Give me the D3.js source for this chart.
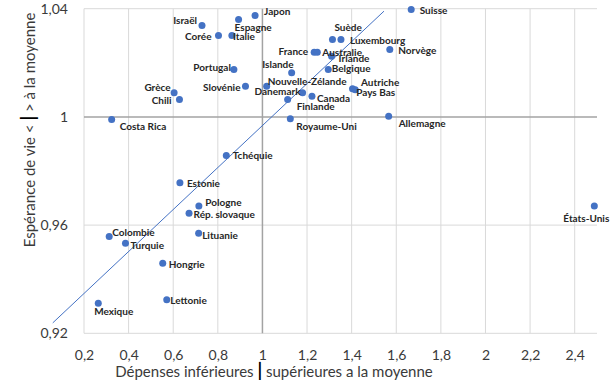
<!DOCTYPE html>
<html lang="fr">
  <head>
    <meta charset="utf-8">
    <title>Dépenses / espérance de vie</title>
    <script src="https://cdn.jsdelivr.net/npm/d3@7"></script>
    <style type="text/css">
      body { margin: 0; background: #fff; }
      .grid { stroke: #d9d9d9; stroke-width: 1; }
      .axisLine { stroke: #a3a3a3; stroke-width: 1.5; }
      .dot { fill: #4472c4; }
      .trend { fill: none; stroke: #4472c4; stroke-width: 1; }
      .tick text { font-family: Lato, "DejaVu Sans", sans-serif; font-size: 14px; fill: #3a3a3a; }
      .label { font-family: Lato, sans-serif; font-size: 10px; font-weight: bold; fill: #262626; }
      .title { font-family: Lato, sans-serif; font-size: 15px; fill: #3a3a3a; }
    </style>
  </head>
  <body>
    <svg id="chart" width="615" height="387"></svg>
    <script type="text/javascript">
      // pays, ratio des dépenses à la moyenne, ratio de l'espérance de vie
      var countries = ["Japon", "Espagne", "Israël", "Corée", "Italie", "Portugal", "Slovénie",
        "Islande", "Nouvelle-Zélande", "Danemark", "Finlande", "Canada", "Suède", "Luxembourg",
        "France", "Australie", "Irlande", "Belgique", "Norvège", "Autriche", "Pays Bas",
        "Royaume-Uni", "Allemagne", "Suisse", "États-Unis", "Grèce", "Chili", "Costa Rica",
        "Tchéquie", "Estonie", "Pologne", "Rép. slovaque", "Lituanie", "Colombie", "Turquie",
        "Hongrie", "Lettonie", "Mexique"];
      var depenses = [0.967, 0.893, 0.729, 0.803, 0.863, 0.872, 0.924,
        1.131, 1.019, 1.180, 1.113, 1.222, 1.314, 1.352,
        1.232, 1.246, 1.310, 1.295, 1.571, 1.404, 1.416,
        1.125, 1.566, 1.667, 2.488, 0.604, 0.628, 0.324,
        0.838, 0.630, 0.715, 0.671, 0.714, 0.313, 0.386,
        0.553, 0.571, 0.264];
      var esperance = [1.0375, 1.0360, 1.0338, 1.0301, 1.0301, 1.0175, 1.0113,
        1.0163, 1.0113, 1.0089, 1.0064, 1.0076, 1.0286, 1.0286,
        1.0239, 1.0239, 1.0224, 1.0175, 1.0249, 1.0104, 1.0100,
        0.9993, 1.0002, 1.0397, 0.9671, 1.0089, 1.0064, 0.9990,
        0.9857, 0.9757, 0.9671, 0.9644, 0.9570, 0.9558, 0.9533,
        0.9459, 0.9324, 0.9311];

      var xTicks = [0.2, 0.4, 0.6, 0.8, 1, 1.2, 1.4, 1.6, 1.8, 2, 2.2, 2.4];
      var yTicks = [0.92, 0.96, 1, 1.04];

      // droite de tendance linéaire
      var trendSlope = 0.0776, trendIntercept = 0.9192;
      var trendRange = [0.06, 1.545];

      // placement des étiquettes : ancre, décalage x, décalage y (px)
      var labelPos = {
        "Japon": ["start", 9, -4], "Espagne": ["start", -4, 8], "Israël": ["end", -5, -5],
        "Corée": ["end", -7, 1], "Italie": ["start", 1, 1], "Portugal": ["end", -3, -2],
        "Slovénie": ["end", -5, 1], "Islande": ["end", 2, -8], "Nouvelle-Zélande": ["start", 1, -5],
        "Danemark": ["end", -2, -1], "Finlande": ["start", 9, 7], "Canada": ["start", 5, 2],
        "Suède": ["start", 2, -12], "Luxembourg": ["start", 9, 1], "France": ["end", -6, -1],
        "Australie": ["start", 5, 0], "Irlande": ["start", 7, 2], "Belgique": ["start", 3.5, -1],
        "Norvège": ["start", 8.5, 0.5], "Autriche": ["start", 8.5, -6], "Pays Bas": ["start", 1, 3],
        "Royaume-Uni": ["start", 6, 8], "Allemagne": ["start", 10, 7], "Suisse": ["start", 8.5, 0.5],
        "États-Unis": ["end", 15, 13], "Grèce": ["end", -3.5, -5], "Chili": ["end", -8, 0.5],
        "Costa Rica": ["start", 8, 6.5], "Tchéquie": ["start", 6.5, 0], "Estonie": ["start", 7, 1.3],
        "Pologne": ["start", 6.5, -3.3], "Rép. slovaque": ["start", 4.5, 1.7], "Lituanie": ["start", 3.5, 2.4],
        "Colombie": ["start", 3, -4], "Turquie": ["start", 5, 2.4], "Hongrie": ["start", 6, 1.4],
        "Lettonie": ["start", 3.5, 0.3], "Mexique": ["start", -4, 8.4]
      };

      var points = countries.map(function(c, i) {
        return {name: c, x: depenses[i], y: esperance[i]};
      });

      var svg = d3.select("#chart");
      var x = d3.scaleLinear().domain([0.2, 2.5]).range([84, 597]);
      var y = d3.scaleLinear().domain([0.92, 1.04]).range([333.3, 8.7]);

      var fr = d3.formatLocale({decimal: ",", thousands: " ", grouping: [3], currency: ["", " €"]});
      var fmt = fr.format("~r");

      // grille
      svg.append("g").selectAll("line")
        .data(xTicks.filter(function(d) { return d !== 1; }))
        .enter().append("line")
          .attr("class", "grid")
          .attr("x1", function(d) { return x(d); }).attr("x2", function(d) { return x(d); })
          .attr("y1", y(1.04)).attr("y2", y(0.92));
      svg.append("g").selectAll("line")
        .data(yTicks.filter(function(d) { return d !== 1; }))
        .enter().append("line")
          .attr("class", "grid")
          .attr("x1", x(0.2)).attr("x2", x(2.5))
          .attr("y1", function(d) { return y(d); }).attr("y2", function(d) { return y(d); });

      // axes croisés à 1
      svg.append("line").attr("class", "axisLine")
        .attr("x1", x(0.2)).attr("x2", x(2.5)).attr("y1", y(1)).attr("y2", y(1));
      svg.append("line").attr("class", "axisLine")
        .attr("x1", x(1)).attr("x2", x(1)).attr("y1", y(1.04)).attr("y2", y(0.92));

      // étiquettes des axes
      var xAxis = svg.append("g")
        .attr("transform", "translate(0,347)")
        .call(d3.axisBottom(x).tickValues(xTicks).tickFormat(fmt).tickSize(0).tickPadding(3));
      xAxis.select(".domain").remove();

      var yAxis = svg.append("g")
        .attr("transform", "translate(68,0)")
        .call(d3.axisLeft(y).tickValues(yTicks).tickFormat(fmt).tickSize(0).tickPadding(0));
      yAxis.select(".domain").remove();

      // tendance
      var line = d3.line()
        .x(function(d) { return x(d); })
        .y(function(d) { return y(trendIntercept + trendSlope * d); });
      svg.append("path")
        .datum(trendRange)
        .attr("class", "trend")
        .attr("d", line);

      // points
      svg.selectAll(".dot")
        .data(points)
        .enter().append("circle")
          .attr("class", "dot")
          .attr("cx", function(d) { return x(d.x); })
          .attr("cy", function(d) { return y(d.y); })
          .attr("r", 3.5);

      svg.selectAll(".label")
        .data(points)
        .enter().append("text")
          .attr("class", "label")
          .attr("x", function(d) { return x(d.x) + labelPos[d.name][1]; })
          .attr("y", function(d) { return y(d.y) + labelPos[d.name][2]; })
          .attr("dy", "0.35em")
          .style("text-anchor", function(d) { return labelPos[d.name][0]; })
          .text(function(d) { return d.name; });

      // titres
      var xt = svg.append("text")
        .attr("class", "title")
        .attr("x", 274)
        .attr("y", 377)
        .style("text-anchor", "middle");
      xt.append("tspan").text("Dépenses inférieures ");
      xt.append("tspan").style("font-weight", "bold").style("font-size", "18px").style("fill", "#000").text("|");
      xt.append("tspan").text(" supérieures a la moyenne");

      var yt = svg.append("text")
        .attr("class", "title")
        .attr("transform", "translate(35,130) rotate(-90)")
        .style("text-anchor", "middle");
      yt.append("tspan").text("Espérance de vie < ");
      yt.append("tspan").style("font-weight", "bold").style("font-size", "18px").style("fill", "#000").text("|");
      yt.append("tspan").text(" > à la moyenne");
    </script>
  </body>
</html>
